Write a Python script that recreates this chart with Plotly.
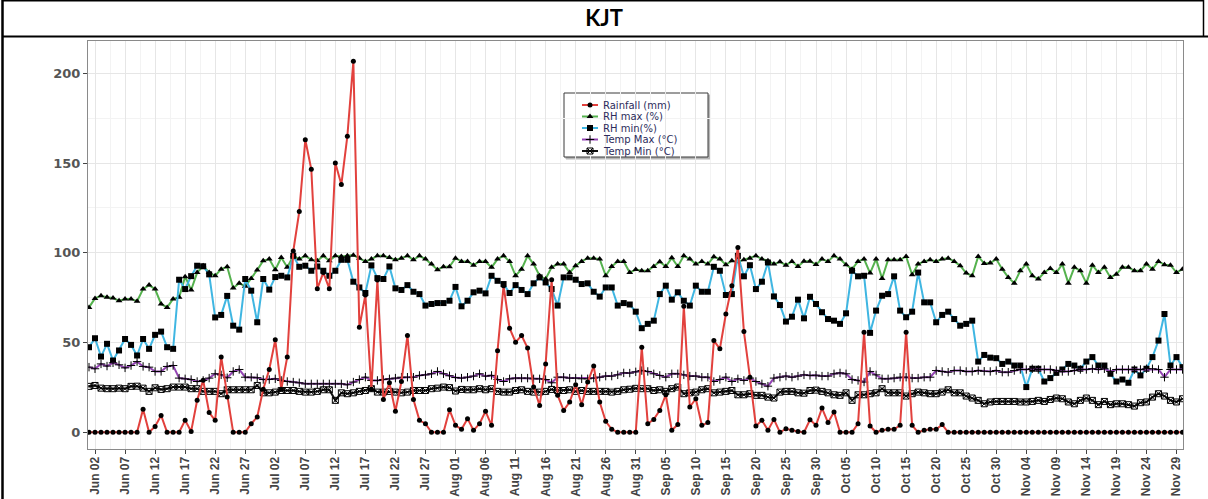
import pandas as pd
import plotly.graph_objects as go

# ---------------- daily weather record, KJT (1 Jun - 30 Nov) ----------------
dates = pd.date_range("2023-06-01", "2023-11-30", freq="D")

rainfall_jun = [0, 0, 0, 0, 0, 0, 0, 0, 0, 12.8, 0, 3.3, 9.4, 0, 0, 0, 6.7, 0.5, 17.8, 29,
                11, 6.7, 42, 19.6, 0, 0, 0, 4.8, 8.5, 24]
rainfall_jul = [35, 51.5, 24, 42, 101, 123, 163, 146.5, 80, 89, 80, 150, 138, 165, 206.7, 58.5,
                76.5, 24, 84.8, 18.3, 27.6, 11.7, 28.3, 53.9, 18.3, 6.7, 4.8, 0, 0, 0, 12.5]
rainfall_aug = [3.9, 1.7, 7.6, 1.1, 4.8, 11.7, 3.9, 45.5, 81.7, 58, 50.2, 53.9, 46.9, 25.2, 15,
                38.1, 85, 20.6, 12.2, 16.9, 26.5, 15.4, 28, 36.9, 16.9, 6.1, 1.7, 0, 0, 0, 0]
rainfall_sep = [47.4, 4.8, 7.2, 12.2, 20.9, 1.1, 4.3, 70.2, 14.1, 18.7, 3.9, 5.4, 51.1, 46.5,
                65.9, 81.7, 103, 56.1, 30.7, 3.5, 6.7, 1.1, 7.2, 0, 2, 1.1, 0.5, 0, 7, 3.9]
rainfall_oct = [13.5, 5.4, 11.3, 0, 0, 0, 4.8, 55.7, 3.5, 0, 1.1, 1.7, 1.7, 3.9, 55.7, 3.9, 0,
                1.1, 1.7, 1.7, 4.3, 0, 0, 0, 0, 0, 0, 0, 0, 0, 0]
rainfall_nov = [0] * 30

rh_max_jun = [69.6, 74.6, 76.1, 75.2, 74.8, 73.3, 74.3, 74.3, 73, 79.8, 82, 79.8, 71.5, 69.6,
              74.3, 75.2, 86.7, 79.3, 89, 92.8, 89, 87.2, 90.9, 92.2, 80.4, 83.1, 81.3, 85.7,
              90.4, 95.6]
rh_max_jul = [96.5, 90.5, 97.4, 91.9, 98.3, 96.5, 98.3, 96.1, 95.6, 98.3, 95.6, 98.3, 98, 98.3,
              98.7, 96.9, 95.2, 96.5, 98.3, 98.3, 97.4, 96.1, 97, 98.3, 96.1, 98.3, 96.5, 93.7,
              90.6, 92.2, 92.3]
rh_max_aug = [97, 95.2, 95.2, 93.1, 95.2, 95.2, 91.9, 96.5, 98.3, 95.2, 87.2, 90.9, 98.3, 93.7,
              87.2, 85.4, 91.9, 93.7, 93.7, 89, 92.8, 95.2, 97, 97, 96.5, 87.2, 92.4, 95.2, 95.2,
              89, 90.7]
rh_max_sep = [90, 90, 92.4, 95, 92.4, 97.2, 92.4, 98.3, 96.5, 93.7, 95.2, 93.7, 97.8, 96.5, 93.3,
              95.6, 95, 96.1, 97, 98.3, 96.5, 95.6, 93.7, 95, 93.1, 95.2, 92.4, 95.3, 95.3, 93.5]
rh_max_oct = [96.5, 95.2, 98.3, 96.5, 93.3, 90.9, 95.2, 96.5, 88.7, 96.5, 85.7, 96.1, 96.1, 96.1,
              98, 87.8, 93.7, 95.2, 96.1, 95.2, 96.5, 97, 95.2, 92.8, 88.7, 87.2, 98, 94, 94.3,
              96.5, 90.9]
rh_max_nov = [86.3, 83.1, 90, 93.7, 87.2, 85.4, 89, 91.3, 89, 93.7, 83.1, 91.9, 90, 83.1, 93.1,
              89, 91.9, 86.3, 88.1, 91.9, 91.9, 90, 90, 93.7, 90.9, 95.2, 93.3, 93.1, 89, 90.9]

rh_min_jun = [47.4, 52.4, 42.2, 49.3, 40, 45.6, 52, 48.7, 42.8, 52, 46.5, 54.3, 56.1, 47.4, 46.5,
              85, 79.8, 87, 92.8, 92.5, 88, 64, 65.4, 76, 59.4, 57.2, 85.4, 78.9, 61.3, 85.4]
rh_min_jul = [79.5, 86.5, 87.2, 86.3, 98.3, 92.2, 92.8, 90, 92.4, 90, 87.2, 90, 96.1, 96.1, 83.9,
              80.7, 77.6, 93, 85.9, 85.4, 92.4, 80.2, 79.3, 82, 78.3, 77, 70.6, 71.5, 72, 72, 73.3]
rh_min_aug = [81, 70.2, 73.3, 78, 78.9, 77.4, 87.2, 84.4, 82.6, 77.6, 82, 79.3, 77, 83, 86.3,
              83.5, 79.8, 70.6, 86.3, 86.3, 85, 82.6, 83, 78.3, 75.6, 80.7, 80.7, 70.6, 72, 71.2,
              67.2]
rh_min_sep = [58, 60.4, 62.2, 77, 81.7, 73.9, 78, 73.3, 70.6, 81.7, 78.3, 78.3, 92.2, 90, 76.5,
              77, 98.3, 86.9, 93.1, 79.8, 83.9, 94.6, 75.7, 70.9, 61.7, 64.4, 73.9, 63.5, 75.5,
              71.5]
rh_min_oct = [66.9, 63.1, 62.2, 60.4, 66.3, 90, 86.9, 87.2, 55.4, 67.8, 76.1, 77, 86.9, 67.8,
              64.1, 67.2, 89, 72.4, 72.4, 61.3, 65.4, 67.2, 63.1, 59.4, 60.4, 62.2, 39.4, 43.1,
              41.6, 41.3, 38.1]
rh_min_nov = [39.4, 37.2, 37.2, 25.2, 35.4, 35.4, 28.3, 30.2, 33.1, 35, 38.1, 37.2, 35.4, 39.4,
              41.9, 37.2, 37.2, 32.6, 28.3, 29.4, 27.6, 35, 31.7, 35.4, 41.9, 51.1, 65.9, 37.2,
              41.9, 36.3]

temp_max_jun = [36.3, 35.4, 38.1, 36.9, 38.7, 37.6, 35.9, 37.2, 39.4, 36.7, 36.3, 33.9, 33.9,
                36.7, 37.2, 30.2, 29.8, 29.4, 28.3, 28.9, 30.2, 32.6, 32, 30.4, 33.9, 35, 30.7,
                30.7, 30.4, 29.4]
temp_max_jul = [29.4, 29.8, 28.9, 28.3, 28, 27.6, 27, 27, 27, 27, 27, 27, 27, 26.5, 28, 29.4,
                30.7, 28.9, 28.9, 29.4, 29.8, 30.2, 30.7, 30.7, 30.7, 31.7, 32, 32.6, 33.9, 32.6,
                31.5]
temp_max_aug = [30.5, 30.2, 30.7, 31.3, 32.6, 31.3, 31.7, 29.4, 28.3, 29.8, 30.2, 30.2, 30.2,
                29.8, 29.8, 29.4, 27.6, 30.7, 30.7, 30.2, 30.2, 29.8, 29.8, 30.2, 30.7, 31.3,
                31.3, 32, 33.1, 33, 33.7]
temp_max_sep = [34.4, 33.9, 32.6, 31.7, 30.7, 32.6, 32.6, 32, 31.3, 31.3, 30.7, 30.7, 28.3,
                29.4, 30.7, 28.3, 29.8, 28.9, 30.2, 28.3, 27, 25.7, 30.2, 30.7, 31.3, 30.7, 31.3,
                32, 31.7, 31.8]
temp_max_oct = [31.3, 31.3, 32.6, 33.1, 32.6, 29.4, 28.9, 28, 33.9, 32, 29.8, 29.8, 30.2, 30.7,
                30.7, 30.2, 30.2, 30.7, 30.7, 34.4, 33.9, 33.5, 34.4, 34.4, 33.9, 33.9, 34.4, 34,
                33.9, 34.4, 33.5]
temp_max_nov = [33.5, 34.4, 35, 35, 35.4, 35, 35, 35, 34.4, 33.9, 33.9, 34.4, 35, 35, 35.4, 35,
                35.4, 33.9, 35, 35, 35, 35, 35, 35.4, 35.4, 35, 30.7, 35, 35, 35]

temp_min_jun = [25.6, 26.1, 24.6, 24.3, 24.3, 24.6, 24.3, 25.6, 25.7, 24.6, 22.8, 24.8, 23.9,
                24.3, 25.2, 25.2, 25.2, 24.3, 24.3, 22.8, 22.8, 22.8, 21.5, 23.7, 23.7, 23.7,
                23.7, 23.7, 26.1, 22]
temp_min_jul = [22, 22.4, 23.3, 23.3, 23.3, 22.8, 22.4, 22.4, 22.8, 23.7, 23.7, 17.8, 22, 21.5,
                22, 22.8, 23.3, 24.3, 22.4, 22.4, 22.8, 22.4, 22, 22.4, 23.3, 23.3, 23.3, 24.3,
                24.6, 25.2, 24.9]
temp_min_aug = [23, 23.9, 23.7, 23.7, 24.3, 23.7, 24.3, 22.8, 22.4, 22.4, 23.3, 23.7, 22.8, 22.4,
                22.4, 22.8, 23.9, 23.3, 23.3, 23.7, 22.8, 23.3, 22.8, 22.8, 22.8, 22.8, 22.4,
                22.8, 23.7, 24, 24.5]
temp_min_sep = [24.3, 24.3, 23.3, 23.7, 22.8, 24.3, 25.2, 21.5, 22, 22.4, 23.7, 24.3, 22, 22.4,
                22.8, 23.3, 20.9, 20.9, 21.5, 20.6, 20.6, 19.6, 19.1, 22.4, 22.8, 22.8, 22, 21.8,
                23.3, 23.5]
temp_min_oct = [22.8, 22, 20.9, 20.6, 22, 17.8, 20.9, 20.9, 21.5, 22, 24.3, 22, 22, 22, 20.2,
                21.5, 22.4, 22, 21.5, 21.5, 22.4, 23.7, 22, 22, 20.2, 19.1, 17.8, 15.9, 16.9,
                17.2, 17.2]
temp_min_nov = [17.2, 17.2, 16.9, 16.9, 17.2, 17.8, 17.2, 18.3, 19.1, 18.7, 16.9, 15.9, 17.8,
                19.1, 17.8, 15.4, 17.2, 15.4, 15.9, 15.9, 15.4, 14.6, 16.5, 16.9, 19.6, 21.5,
                20.2, 17.8, 16.9, 18.7]

rainfall = rainfall_jun + rainfall_jul + rainfall_aug + rainfall_sep + rainfall_oct + rainfall_nov
rh_max = rh_max_jun + rh_max_jul + rh_max_aug + rh_max_sep + rh_max_oct + rh_max_nov
rh_min = rh_min_jun + rh_min_jul + rh_min_aug + rh_min_sep + rh_min_oct + rh_min_nov
temp_max = temp_max_jun + temp_max_jul + temp_max_aug + temp_max_sep + temp_max_oct + temp_max_nov
temp_min = temp_min_jun + temp_min_jul + temp_min_aug + temp_min_sep + temp_min_oct + temp_min_nov

for s in (rainfall, rh_max, rh_min, temp_max, temp_min):
    assert len(s) == len(dates), len(s)

series_names = ["Rainfall (mm)", "RH max (%)", "RH min(%)", "Temp Max (°C)", "Temp Min (°C)"]
y_ticks = [0, 50, 100, 150, 200]

# ---------------- styling ----------------
W, H = 1208, 499
PL, PR, PT, PB = 88, 1183, 41, 449          # panel edges in pixels

LINE_COLORS = {
    "Rainfall (mm)": "#E2413D",
    "RH max (%)": "#55B24E",
    "RH min(%)": "#3FB6E2",
    "Temp Max (°C)": "#9444B4",
    "Temp Min (°C)": "#111111",
}
MARKERS = {
    "Rainfall (mm)": dict(symbol="circle", size=5, color="black"),
    "RH max (%)": dict(symbol="triangle-up", size=6, color="black"),
    "RH min(%)": dict(symbol="square", size=6, color="black"),
    "Temp Max (°C)": dict(symbol="cross-thin", size=6, color="black",
                          line=dict(width=1, color="black")),
    "Temp Min (°C)": dict(symbol="square-x-open", size=6, color="black",
                          line=dict(width=1, color="black")),
}
values = dict(zip(series_names, [rainfall, rh_max, rh_min, temp_max, temp_min]))
draw_order = ["RH max (%)", "RH min(%)", "Temp Min (°C)", "Temp Max (°C)", "Rainfall (mm)"]


def px(x):
    return (x - PL) / (PR - PL)


def py(y):
    return (PB - y) / (PB - PT)


fig = go.Figure()
for name in draw_order:
    fig.add_trace(go.Scatter(
        x=dates, y=values[name], name=name, mode="lines+markers",
        line=dict(color=LINE_COLORS[name], width=2),
        marker=MARKERS[name], showlegend=False,
    ))

# ---------------- legend (drawn on a pixel-scaled overlay axis) ----------------
LEG_BOX = (564, 93, 708, 157)
LEG_ROWS = [105, 116.5, 128, 139.5, 151]
LEG_LINE_X = (582, 598)
LEG_TEXT_X = 602

shapes = [
    dict(type="rect", xref="paper", yref="paper", layer="between",
         x0=px(LEG_BOX[0] + 2), x1=px(LEG_BOX[2] + 2), y0=py(LEG_BOX[3] + 2), y1=py(LEG_BOX[1] + 2),
         line=dict(color="#b5b5b5", width=1), fillcolor="#b5b5b5"),
    dict(type="rect", xref="paper", yref="paper", layer="between",
         x0=px(LEG_BOX[0]), x1=px(LEG_BOX[2]), y0=py(LEG_BOX[3]), y1=py(LEG_BOX[1]),
         line=dict(color="#3a3a3a", width=1), fillcolor="white"),
]
annotations = []
for name, row in zip(series_names, LEG_ROWS):
    fig.add_trace(go.Scatter(
        x=list(LEG_LINE_X), y=[row, row], xaxis="x2", yaxis="y2", mode="lines",
        line=dict(color=LINE_COLORS[name], width=2), showlegend=False, hoverinfo="skip"))
    fig.add_trace(go.Scatter(
        x=[sum(LEG_LINE_X) / 2], y=[row], xaxis="x2", yaxis="y2", mode="markers",
        marker=MARKERS[name], showlegend=False, hoverinfo="skip"))
    annotations.append(dict(
        xref="paper", yref="paper", x=px(LEG_TEXT_X), y=py(row), text=name, showarrow=False,
        xanchor="left", yanchor="middle", borderpad=0,
        font=dict(family="DejaVu Sans", size=10, color="#2c2c5c")))

# ---------------- frame lines around the title cell ----------------
shapes += [
    dict(type="line", xref="paper", yref="paper", x0=px(2.5), x1=px(2.5), y0=py(0), y1=py(H),
         line=dict(color="black", width=2.5)),
    dict(type="line", xref="paper", yref="paper", x0=px(2), x1=px(1204), y0=py(0.8), y1=py(0.8),
         line=dict(color="black", width=1.5)),
    dict(type="line", xref="paper", yref="paper", x0=px(1203.5), x1=px(1203.5), y0=py(0), y1=py(37),
         line=dict(color="black", width=1.5)),
    dict(type="line", xref="paper", yref="paper", x0=px(2), x1=px(W), y0=py(36.5), y1=py(36.5),
         line=dict(color="black", width=2)),
]

grid_major = "#e6e6e6"
grid_minor = "#f3f3f3"
day_ms = 86400000

fig.update_layout(
    width=W, height=H,
    margin=dict(l=PL, r=W - PR, t=PT, b=H - PB, pad=0, autoexpand=False),
    paper_bgcolor="white", plot_bgcolor="white",
    title=dict(text="<b>KJT</b>", x=0.5, xref="container", xanchor="center",
               y=1 - 18 / H, yref="container", yanchor="middle",
               font=dict(family="Lato", size=22, color="black")),
    xaxis=dict(
        type="date", automargin=False,
        range=["2023-05-31 20:00", "2023-11-30 02:00"],
        tick0="2023-06-02", dtick=5 * day_ms, tickformat="%b %d", tickangle=-90,
        ticks="outside", ticklen=4, tickcolor="#444444", tickwidth=1, ticklabelstandoff=-2,
        tickfont=dict(family="Liberation Sans", size=12, color="#444444", weight="bold"),
        showgrid=True, gridcolor=grid_major, gridwidth=1,
        minor=dict(tick0="2023-06-02", dtick=2.5 * day_ms, showgrid=True,
                   gridcolor=grid_minor, gridwidth=1),
        showline=True, mirror=True, linecolor="#8a8a8a", linewidth=1, zeroline=False,
    ),
    yaxis=dict(
        automargin=False,
        range=[-9.3, 218.0], tickvals=y_ticks,
        ticks="outside", ticklen=4, tickcolor="#444444", tickwidth=1,
        tickfont=dict(family="DejaVu Sans", size=13, color="#555555", weight="bold"),
        showgrid=True, gridcolor=grid_major, gridwidth=1,
        minor=dict(tick0=0, dtick=25, showgrid=True, gridcolor=grid_minor, gridwidth=1),
        showline=True, mirror=True, linecolor="#8a8a8a", linewidth=1, zeroline=False,
    ),
    xaxis2=dict(overlaying="x", range=[PL, PR], visible=False, fixedrange=True),
    yaxis2=dict(overlaying="y", range=[PB, PT], visible=False, fixedrange=True),
    shapes=shapes,
    annotations=annotations,
    showlegend=False,
)

fig.write_html("out.html")
